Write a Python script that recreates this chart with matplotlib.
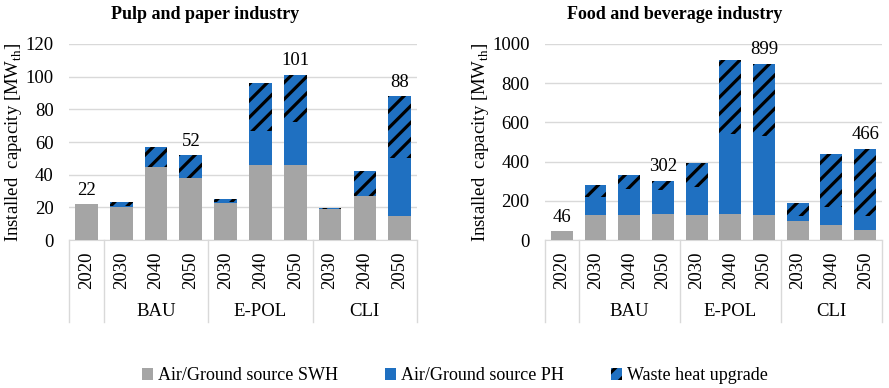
import numpy as np
import matplotlib
matplotlib.use('Agg')
import matplotlib.pyplot as plt
from matplotlib.patches import Patch
from matplotlib.lines import Line2D

plt.rcParams['font.family'] = ['Liberation Serif', 'DejaVu Serif']
plt.rcParams['mathtext.fontset'] = 'custom'
plt.rcParams['mathtext.rm'] = 'Liberation Serif'
plt.rcParams['hatch.linewidth'] = 2.3
plt.rcParams['hatch.color'] = 'black'

years = ['2020', '2030', '2040', '2050', '2030', '2040', '2050', '2030', '2040', '2050']
groups = ['BAU', 'E-POL', 'CLI']

# pulp and paper industry (MW_th)
pulp_swh = [22, 20, 44.5, 38, 22.5, 46, 46, 19, 27, 15]
pulp_ph = [0, 1, 0, 0, 1, 21, 26, 0, 0, 35.5]
pulp_waste = [0, 2.5, 12.5, 14, 1.5, 29, 29, 0.5, 15.5, 37.5]
pulp_labels = {0: '22', 3: '52', 6: '101', 9: '88'}

# food and beverage industry (MW_th)
food_swh = [44, 128, 128, 133, 128, 133, 128, 96, 77, 51]
food_ph = [0, 91, 133, 120, 142, 407, 404, 29, 91, 74]
food_waste = [0, 63, 72, 49, 125, 376, 367, 63, 271, 341]
food_labels = {0: '46', 3: '302', 6: '899', 9: '466'}

c_swh = '#A5A5A5'
c_ph = '#1F70C1'
c_grid = '#D9D9D9'
fs = 13.5

fig = plt.figure(figsize=(8.89, 3.88), dpi=100)
ax1 = fig.add_axes([0.0776, 0.3814, 0.3915, 0.5052])
ax2 = fig.add_axes([0.6130, 0.3814, 0.3791, 0.5052])


def draw(ax, swh, ph, waste, labels, ymax, ystep, title, title_x):
    x = np.arange(len(years))
    w = 0.65
    swh = np.array(swh, dtype=float)
    ph = np.array(ph, dtype=float)
    waste = np.array(waste, dtype=float)
    ax.bar(x, swh, w, color=c_swh, zorder=3)
    ax.bar(x, ph, w, bottom=swh, color=c_ph, zorder=3)
    ax.bar(x, waste, w, bottom=swh + ph, color=c_ph, hatch='//', linewidth=0, zorder=3)
    tot = swh + ph + waste
    for i, lab in labels.items():
        ax.annotate(lab, (x[i], tot[i]), xytext=(0, 4), textcoords='offset points',
                    ha='center', va='bottom', fontsize=fs)
    ax.set_xlim(-0.5, len(years) - 0.5)
    ax.set_ylim(0, ymax)
    ax.set_yticks(np.arange(0, ymax + 1, ystep))
    ax.yaxis.grid(True, color=c_grid, linewidth=1, zorder=0)
    ax.set_axisbelow(True)
    for s in ['top', 'right', 'left']:
        ax.spines[s].set_visible(False)
    ax.spines['bottom'].set_color(c_grid)
    ax.set_xticks([])
    ax.tick_params(axis='y', length=0, pad=11, labelsize=fs)
    ax.set_ylabel(r'Installed  capacity [MW$_{\mathrm{th}}$]', fontsize=fs, labelpad=1)
    ax.set_title(title, fontsize=13, fontweight='bold', pad=18, x=title_x)

    tr = ax.get_xaxis_transform()
    for i, yr in enumerate(years):
        ax.text(x[i], -0.153, yr, rotation=90, ha='center', va='center', transform=tr, fontsize=fs)
    for i, g in enumerate(groups):
        ax.text(2 + 3 * i, -0.367, g, ha='center', va='center', transform=tr, fontsize=fs)
    for xs in [-0.5, 0.5, 3.5, 6.5, 9.5]:
        ax.add_line(Line2D([xs, xs], [0, -0.42], transform=tr, color=c_grid,
                           linewidth=1, clip_on=False))


draw(ax1, pulp_swh, pulp_ph, pulp_waste, pulp_labels, 120, 20, 'Pulp and paper industry', 0.39)
draw(ax2, food_swh, food_ph, food_waste, food_labels, 1000, 200, 'Food and beverage industry', 0.386)

handles = [Patch(facecolor=c_swh, label='Air/Ground source SWH'),
           Patch(facecolor=c_ph, label='Air/Ground source PH'),
           Patch(facecolor=c_ph, hatch='//', linewidth=0, label='Waste heat upgrade')]
fig.legend(handles=handles, loc='center', bbox_to_anchor=(0.512, 0.031), ncol=3,
           frameon=False, fontsize=13, handlelength=0.6, handleheight=0.6,
           handletextpad=0.3, columnspacing=2.6)

fig.savefig('out.png', dpi=100)
